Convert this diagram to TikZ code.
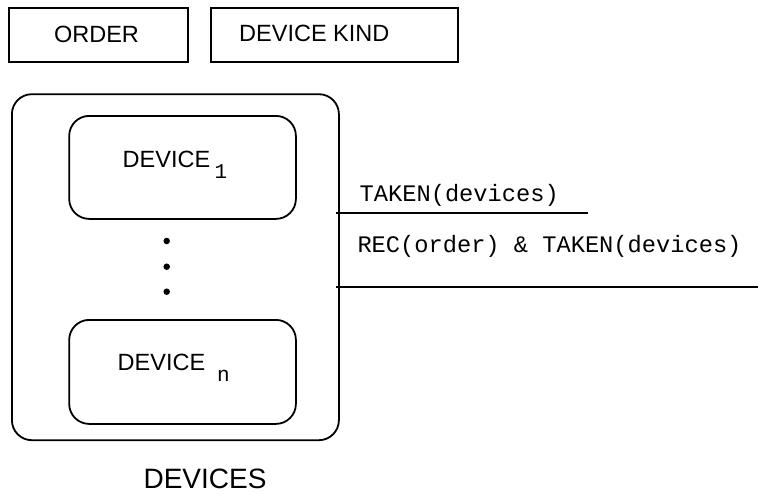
\documentclass[tikz,border=0pt]{standalone}
\usepackage{fontspec}
\setmainfont{Liberation Sans}
\setmonofont{Liberation Mono}
\begin{document}
\begin{tikzpicture}[x=1pt,y=-1pt,
  box/.style={draw,line width=1.8pt,inner sep=0pt,anchor=north west},
  rbox/.style={box,rounded corners=20pt},
  sanslbl/.style={inner sep=0pt,font=\fontsize{23.5}{28}\selectfont},
  monolbl/.style={inner sep=0pt,font=\ttfamily\fontsize{23.7}{28}\selectfont},
  sublbl/.style={inner sep=0pt,font=\ttfamily\fontsize{21}{24}\selectfont},
  conn/.style={line width=1.8pt},
  dotmark/.style={circle,fill,inner sep=0pt,minimum size=6.5pt}]
\useasboundingbox (0,0) rectangle (758,495);
% top boxes
\node[box,minimum width=179pt,minimum height=54pt] (order) at (8,7) {};
\node[sanslbl,anchor=base] (orderT) at (96.5,43) {ORDER};
\node[box,minimum width=247pt,minimum height=54pt] (kind) at (210,7) {};
\node[sanslbl,anchor=base west] (kindT) at (239,42) {DEVICE KIND};
% outer container
\node[rbox,minimum width=327pt,minimum height=346pt] (outer) at (11,93.3) {};
\node[rbox,minimum width=226.7pt,minimum height=103pt] (d1) at (68.3,115) {};
\node[rbox,minimum width=226.7pt,minimum height=104pt] (dn) at (68.3,319) {};
\node[sanslbl,anchor=base west] (d1T) at (122.5,167.3) {DEVICE};
\node[sublbl,anchor=base] (d1S) at (221,178.5) {1};
\node[sanslbl,anchor=base west] (dnT) at (117.5,370) {DEVICE};
\node[sublbl,anchor=base] (dnS) at (223.3,381.7) {n};
% dots
\node[dotmark] (p1) at (166.7,241) {};
\node[dotmark] (p2) at (166.7,266.7) {};
\node[dotmark] (p3) at (166.7,291.7) {};
\node[inner sep=0pt,anchor=base,font=\fontsize{28}{33}\selectfont] (devT) at (205,488.3) {DEVICES};
% connectors
\coordinate (e1) at (588.3,213.3);
\coordinate (e2) at (758,286.7);
\coordinate (s1) at (outer.east |- e1);
\coordinate (s2) at (outer.east |- e2);
\draw[conn] ([xshift=-4pt]s1) -- (e1);
\draw[conn] ([xshift=-4pt]s2) -- (e2);
\node[monolbl,anchor=base west] (l1) at (359.5,201) {TAKEN(devices)};
\node[monolbl,anchor=base west] (l2) at (357.3,252.7) {REC(order) \& TAKEN(devices)};
\end{tikzpicture}
\end{document}
